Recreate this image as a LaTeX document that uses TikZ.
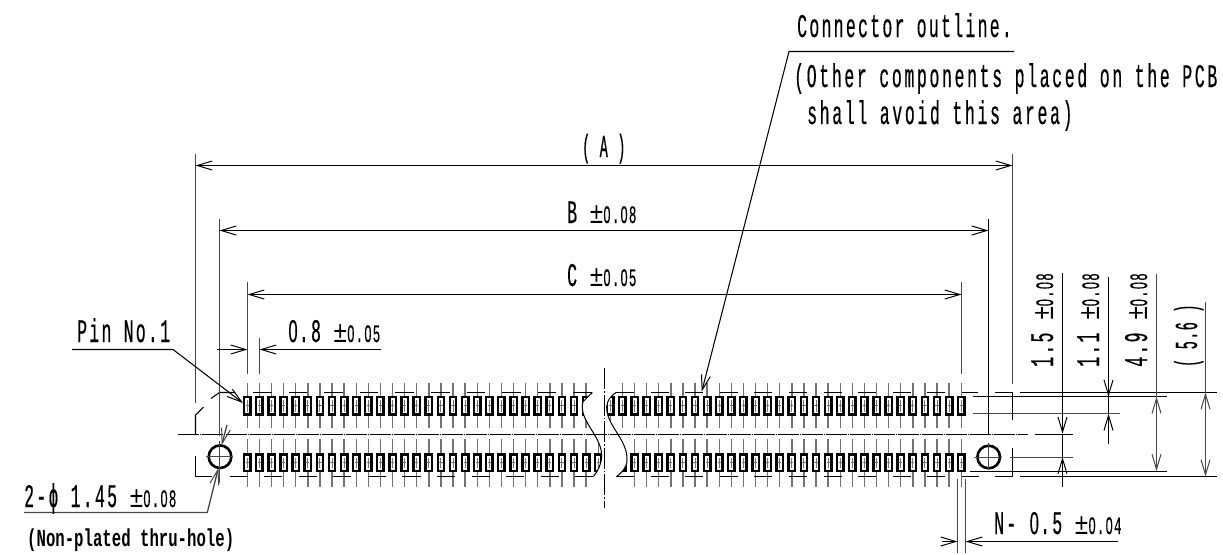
\documentclass[tikz,border=0pt]{standalone}
\usepackage{fontspec}
\usetikzlibrary{arrows.meta}
\newfontfamily\bigf[FakeStretch=0.5,LetterSpace=6.9,FakeBold=0.4]{Liberation Mono}
\newfontfamily\bigw[FakeStretch=0.5,LetterSpace=8,FakeBold=0.4]{Liberation Mono}
\newfontfamily\tolf[FakeStretch=0.5,LetterSpace=9,FakeBold=0.3]{Liberation Mono}
\newfontfamily\pmf[FakeStretch=0.8]{Liberation Mono}
\newfontfamily\parf[FakeStretch=0.42,LetterSpace=4.5,FakeBold=0.4]{Liberation Mono}
\newfontfamily\notef[FakeStretch=0.64,BoldFont={Liberation Mono Bold}]{Liberation Mono}
\newfontfamily\zf[FakeStretch=0.52,FakeBold=0.4]{Liberation Sans}
\newcommand{\zb}{\makebox[11.7pt]{\zf\fontsize{31.5}{31.5}\selectfont 0}}
\newcommand{\zs}{\makebox[9.6pt]{\zf\fontsize{24}{24}\selectfont 0}}
\newcommand{\tol}[1]{{\pmf\fontsize{30}{30}\selectfont ±}\kern-1.5pt{\tolf\fontsize{25}{25}\selectfont #1}}
\tikzset{
  barb/.tip={Straight Barb[length=15pt,width=9pt,line width=1pt]},
  lbl/.style={anchor=base west,inner sep=0pt,font=\bigf\fontsize{33}{33}\selectfont},
  wlbl/.style={anchor=base west,inner sep=0pt,font=\bigw\fontsize{33}{33}\selectfont},
  plbl/.style={anchor=base west,inner sep=0pt,font=\parf\fontsize{32}{32}\selectfont},
  note/.style={anchor=base west,inner sep=0pt,font=\notef\bfseries\fontsize{24.5}{24.5}\selectfont},
  rlbl/.style={lbl,rotate=90},
  dimline/.style={line width=1.05pt,black},
  extline/.style={line width=1.3pt,black!72},
  outline/.style={line width=1.05pt,black},
  centerline/.style={line width=1.05pt,black,dash pattern=on 21pt off 1pt on 1pt off 1pt},
  pinline/.style={line width=1.4pt,black!55},
  pinbox/.style={line width=2.4pt,black,fill=white},
  pinmark/.style={line width=1pt,black!55},
}
\newcommand{\pinbox}[3]{% x, top, bottom
  \draw[pinbox] ({#1-3.2},#2) rectangle ({#1+3.2},#3);
  \draw[pinmark] (#1,{#2+3}) -- (#1,{#3-3}) ({#1-1.6},{(#2+#3)/2}) -- ({#1+1.6},{(#2+#3)/2});
}
\begin{document}
\begin{tikzpicture}[x=1pt,y=-1pt]
\useasboundingbox (0,0) rectangle (1223,554);
% pins
\foreach \i in {0,...,28,30,31,...,59}{
  \pgfmathsetmacro\px{247.3+12.1*\i}
  \draw[pinline] (\px,383) -- (\px,428);
  \pinbox{\px}{397}{414.5}
}
\foreach \i in {0,...,29,32,33,...,59}{
  \pgfmathsetmacro\px{247.3+12.1*\i}
  \draw[pinline] (\px,439) -- (\px,487);
  \pinbox{\px}{454.5}{471}
}
\pinbox{622.4}{454.5}{471}
% mask of the break
\fill[white] (592.3,378) -- (592.3,392) -- (583,401.7)
  .. controls (578,420) and (601,435) .. (601.7,455)
  .. controls (602,462) and (598,472) .. (593,476.7)
  -- (593,492) -- (616.7,492) -- (616.7,476.7)
  .. controls (621,473) and (627,468) .. (627,460)
  .. controls (628,440) and (606,425) .. (606.7,407)
  .. controls (607,400) and (611,396) .. (616,392)
  -- (616,378) -- cycle;
\draw[outline,line width=1pt] (592.3,392.5) -- (583,401.7)
  .. controls (578,420) and (601,435) .. (601.7,455)
  .. controls (602,462) and (598,472) .. (593,476.5);
\draw[outline,line width=1pt] (616.7,476.5)
  .. controls (621,473) and (627,468) .. (627,460)
  .. controls (628,440) and (606,425) .. (606.7,407)
  .. controls (607,400) and (611,396) .. (616,392.5);
% tick segments of connector outline
\foreach \k in {0,...,9}{
  \draw[outline] ({253+35.6*\k},392.5) -- ({271.6+35.6*\k},392.5);
  \draw[outline] ({229.6+34.6*\k},476.5) -- ({229.6+18+34.6*\k},476.5);
  \draw[outline] ({264+34.6*\k},476.5) -- ({264+18+34.6*\k},476.5);
  \draw[outline] ({616+34.6*\k},392.5) -- ({634+34.6*\k},392.5);
  \draw[outline] ({616+34.6*\k},476.5) -- ({634+34.6*\k},476.5);
}
\draw[outline] (962,392.5) -- (978,392.5) (962,476.5) -- (979,476.5);
% outline corners
\draw[outline] (235,392.5) -- (219.5,392.5) -- (211,398.5);
\draw[outline] (203.5,407) -- (195.5,415) -- (195.5,434);
\draw[outline] (195.5,456) -- (195.5,476.5) -- (212,476.5);
\draw[outline] (995,392.5) -- (1012.5,392.5) -- (1012.5,420);
\draw[outline] (1012.5,448) -- (1012.5,476.5) -- (995,476.5);
% centre lines
\draw[centerline] (178,434.5) -- (1028,434.5);
\draw[dimline] (1035,434.5) -- (1073,434.5);
\draw[line width=1.05pt,black,dash pattern=on 21pt off 2pt on 1.5pt off 2pt] (604.5,368) -- (604.5,508);
% holes
\coordinate (hL) at (220,456.7);
\coordinate (hR) at (988.7,457);
\draw[line width=2.6pt] (hL) circle (11.3);
\draw[line width=2.6pt] (hR) circle (11.3);
\draw[extline] (206,456.5) -- (233,456.5) (219.5,441) -- (219.5,483);
\draw[extline] (974,457.5) -- (1002,457.5) (988.5,443) -- (988.5,470);
\draw[extline] (1010,457.5) -- (1073,457.5);
% extension lines
\draw[extline] (195.5,154) -- (195.5,403);
\draw[extline] (219.5,219) -- (219.5,436);
\draw[extline] (247.5,282) -- (247.5,374);
\draw[extline] (259.5,338) -- (259.5,374);
\draw[extline] (1012.5,154) -- (1012.5,384);
\draw[dimline] (988.5,219) -- (988.5,435);
\draw[extline] (961.5,282) -- (961.5,374);
\draw[dimline] (1020,392.5) -- (1217,392.5) (1020,476.5) -- (1217,476.5);
\draw[dimline] (972.7,396.5) -- (1167,396.5) (970,471.5) -- (1167,471.5);
\draw[extline] (972.7,413.5) -- (1120,413.5);
\draw[extline] (957.5,479) -- (957.5,552.7) (965.5,479) -- (965.5,552.7);
% horizontal dimensions
\coordinate (a1) at (195.5,165.5); \coordinate (a2) at (1012.5,165.5);
\coordinate (b1) at (219.5,230.5); \coordinate (b2) at (988.5,230.5);
\coordinate (c1) at (247.5,294.5); \coordinate (c2) at (961.5,294.5);
\draw[dimline,{barb}-{barb}] (a1) -- (a2);
\draw[dimline,{barb}-{barb}] (b1) -- (b2);
\draw[dimline,{barb}-{barb}] (c1) -- (c2);
\coordinate (p1) at (217,349.5); \coordinate (p2) at (247.5,349.5);
\coordinate (p3) at (380.7,349.5); \coordinate (p4) at (259.5,349.5);
\draw[dimline,-{barb}] (p1) -- (p2);
\draw[dimline,-{barb}] (p3) -- (p4);
\coordinate (n1) at (941.7,541.5); \coordinate (n2) at (957.5,541.5);
\coordinate (n3) at (1118,541.5); \coordinate (n4) at (965.5,541.5);
\draw[dimline,-{barb}] (n1) -- (n2);
\draw[dimline,-{barb}] (n3) -- (n4);
% vertical dimensions
\coordinate (v1) at (1062.5,273); \coordinate (v1a) at (1062.5,433.7);
\coordinate (v1b) at (1062.5,487); \coordinate (v1c) at (1062.5,457);
\draw[dimline,-{barb}] (v1) -- (v1a);
\draw[dimline,-{barb}] (v1b) -- (v1c);
\draw[dimline] (v1a) -- (v1c);
\coordinate (v2) at (1108.5,277); \coordinate (v2a) at (1108.5,396.7);
\coordinate (v2b) at (1108.5,444); \coordinate (v2c) at (1108.5,413.7);
\draw[dimline,-{barb}] (v2) -- (v2a);
\draw[dimline,-{barb}] (v2b) -- (v2c);
\draw[dimline] (v2a) -- (v2c);
\coordinate (v3) at (1156.5,274); \coordinate (v3a) at (1156.5,396.7); \coordinate (v3b) at (1156.5,471);
\draw[extline] (v3) -- (v3a);
\draw[extline,{barb}-{barb}] (v3a) -- (v3b);
\coordinate (v4) at (1205.5,301.7); \coordinate (v4a) at (1205.5,392.5); \coordinate (v4b) at (1205.5,476.5);
\draw[extline] (v4) -- (v4a);
\draw[extline,{barb}-{barb}] (v4a) -- (v4b);
% leaders
\coordinate (l1) at (72,349.5); \coordinate (l2) at (173,349.5); \coordinate (l3) at (243,403);
\draw[dimline,-{barb}] (l1) -- (l2) -- (l3);
\coordinate (m1) at (1014,51.5); \coordinate (m2) at (789,51.5); \coordinate (m3) at (701.7,391.7);
\draw[dimline,-{barb}] (m1) -- (m2) -- (m3);
\coordinate (h1) at (24,512.5); \coordinate (h2) at (207.3,512.5); \coordinate (h3) at (218.4,468);
\coordinate (h4) at (227,425); \coordinate (h5) at (221.7,445);
\draw[extline,-{barb}] (h1) -- (h2) -- (h3);
\draw[extline,-{barb}] (h4) -- (h5);
% texts
\node[lbl] (tConn) at (797,37) {Connector outline.};
\node[wlbl] (tOther) at (794,87) {(Other components placed on the PCB};
\node[wlbl] (tShall) at (807,124) {shall avoid this area)};
\node[plbl] (tA) at (582,157) {( A )};
\node[lbl] (tB) at (567,223) {B \tol{\zs.\zs8}};
\node[lbl] (tC) at (567,286) {C \tol{\zs.\zs5}};
\node[lbl] (tPin) at (77,342) {Pin No.1};
\node[lbl] (t08) at (287,342) {\zb.8 \tol{\zs.\zs5}};
\node[lbl] (tHole) at (24,507) {2-\char"03D5{} 1.45 \tol{\zs.\zs8}};
\node[note] (tNon) at (27,546) {(Non-plated thru-hole)};
\node[lbl] (tN) at (994,534) {N- \zb.5 \tol{\zs.\zs4}};
\node[rlbl] (t15) at (1053,367) {1.5 \tol{\zs.\zs8}};
\node[rlbl] (t11) at (1099,367) {1.1 \tol{\zs.\zs8}};
\node[rlbl] (t49) at (1147,367) {4.9 \tol{\zs.\zs8}};
\node[plbl,rotate=90] (t56) at (1197,367) {( 5.6 )};
\end{tikzpicture}
\end{document}
